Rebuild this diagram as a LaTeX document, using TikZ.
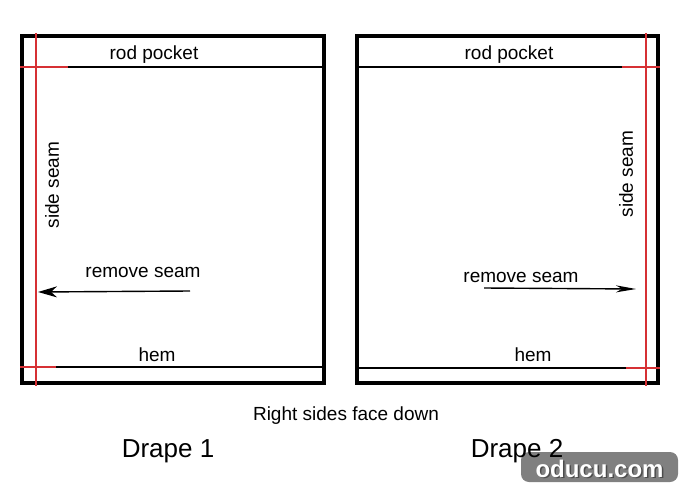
\documentclass[tikz,border=0pt]{standalone}
\usepackage{fontspec}
\setmainfont{Liberation Sans}
\usetikzlibrary{arrows.meta}
\definecolor{seamred}{RGB}{214,48,52}
\definecolor{wmgray}{RGB}{128,128,128}
\begin{document}
\begin{tikzpicture}[x=1pt,y=-1pt,
  outer/.style={line width=3.8pt},
  inner/.style={line width=2.4pt},
  redline/.style={draw=seamred,line width=2.4pt},
  lbl/.style={font=\fontsize{19}{22}\selectfont,inner sep=0pt},
  big/.style={font=\fontsize{26}{30}\selectfont,inner sep=0pt},
  arr/.style={line width=1.4pt,-{Stealth[length=19pt,width=11pt,inset=6pt]}}]
\fill[white] (0,0) rectangle (680,487);
\useasboundingbox (0,0) rectangle (680,487);
% Drape 1 frame
\coordinate (a1) at (22,36); \coordinate (a2) at (324,383);
\draw[outer] (a1) rectangle (a2);
\draw[inner] (22,67) -- (324,67);
\draw[inner] (22,367) -- (324,367);
\draw[redline] (36,33) -- (36,386);
\draw[redline] (20,67) -- (68,67);
\draw[redline] (20,367) -- (56,367);
% Drape 2 frame
\coordinate (b1) at (357,36); \coordinate (b2) at (658,383);
\draw[outer] (b1) rectangle (b2);
\draw[inner] (357,67) -- (658,67);
\draw[inner] (357,368) -- (658,368);
\draw[redline] (646,33) -- (646,386);
\draw[redline] (622,67) -- (660,67);
\draw[redline] (626,368) -- (660,368);
% labels drape 1
\node[lbl] (rp1) at (154,55) {rod pocket};
\node[lbl,rotate=90] (ss1) at (52,185) {side seam};
\node[lbl] (rs1) at (143,272) {remove seam};
\node[lbl] (hem1) at (157,355) {hem};
\coordinate (s1) at (190,291); \coordinate (e1) at (38,292);
\draw[arr] (s1) -- (e1);
% labels drape 2
\node[lbl] (rp2) at (509,55) {rod pocket};
\node[lbl,rotate=90] (ss2) at (626,174) {side seam};
\node[lbl] (rs2) at (521,277) {remove seam};
\node[lbl] (hem2) at (533,355) {hem};
\coordinate (s2) at (484,288); \coordinate (e2) at (636,289);
\draw[arr,-{Stealth[length=20pt,width=7pt,inset=6pt]}] (s2) -- (e2);
% bottom captions
\node[lbl] (cap) at (346,416) {Right sides face down};
\node[big] (d1) at (168,451) {Drape 1};
% watermark
\node[fill=wmgray,rounded corners=8pt,minimum width=157pt,minimum height=30pt,inner sep=0pt] (wm) at (599.5,467) {};
\node[big] (d2) at (517,451) {Drape 2};
\node[font=\bfseries\fontsize{24}{26}\selectfont,text=black!70,inner sep=0pt] (wms) at (601,470) {oducu.com};
\node[font=\bfseries\fontsize{24}{26}\selectfont,text=white,inner sep=0pt] (wmt) at (599.5,468.5) {oducu.com};
\end{tikzpicture}
\end{document}
